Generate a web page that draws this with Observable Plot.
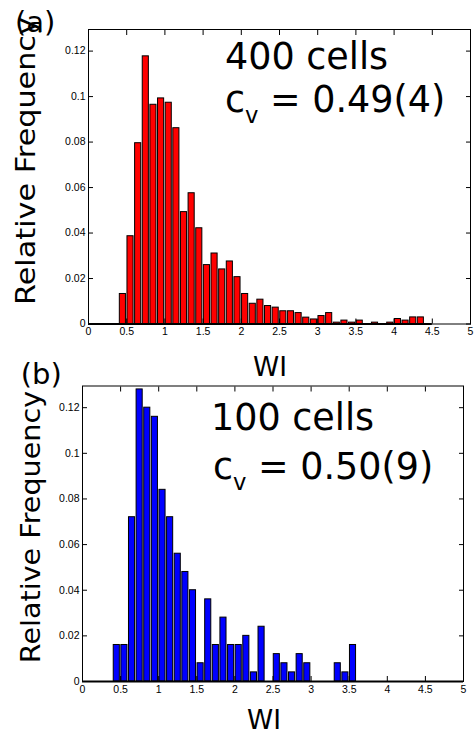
<!DOCTYPE html>
<html><head><meta charset="utf-8">
<script src="https://cdn.jsdelivr.net/npm/d3@7"></script>
<script src="https://cdn.jsdelivr.net/npm/@observablehq/plot@0.6"></script>
<style>
body{margin:0;background:#fff;}
#root{position:relative;width:474px;height:734px;overflow:hidden;font-family:"DejaVu Sans";color:#000;}
.t{position:absolute;line-height:1;white-space:nowrap;color:#000;}
.panel{position:absolute;left:0;}
.panel svg{overflow:visible;}
.sub{font-size:0.62em;position:relative;top:0.48em;}
</style></head><body>
<div id="root">
  <div class="panel" id="pa" style="top:0px"></div>
  <div class="panel" id="pb" style="top:356px"></div>
  <div class="t" style="left:25px;top:161px;font-size:27px;transform:translate(-50%,-50%) rotate(-90deg) scaleX(1.12)">Relative Frequency</div>
  <div class="t" style="left:30px;top:527px;font-size:27px;transform:translate(-50%,-50%) rotate(-90deg) scaleX(1.06)">Relative Frequency</div>
  <div class="t" style="left:15px;top:8px;font-size:29px">(a)</div>
  <div class="t" style="left:20.7px;top:359.7px;font-size:29px">(b)</div>
  <div class="t" style="left:270px;top:354px;font-size:26.5px;transform:translateX(-50%)">WI</div>
  <div class="t" style="left:264px;top:707px;font-size:26.5px;transform:translateX(-50%)">WI</div>
  <div class="t" style="left:225px;top:39.1px;font-size:36.5px">400 cells</div>
  <div class="t" style="left:225px;top:81.8px;font-size:36.5px">c<span class="sub">v</span> = 0.49(4)</div>
  <div class="t" style="left:211px;top:399.8px;font-size:36.5px">100 cells</div>
  <div class="t" style="left:213px;top:449.1px;font-size:36.5px">c<span class="sub">v</span> = 0.50(9)</div>
</div>
<script>
// Panel (a): 400 cells, bin centers of WI and relative frequency
const binCentersA = [0.05,0.15,0.25,0.35,0.45,0.55,0.65,0.75,0.85,0.95,1.05,1.15,1.25,1.35,1.45,1.55,1.65,1.75,1.85,1.95,2.05,2.15,2.25,2.35,2.45,2.55,2.65,2.75,2.85,2.95,3.05,3.15,3.25,3.35,3.45,3.55,3.65,3.75,3.85,3.95,4.05,4.15,4.25,4.35,4.45];
const freqA = [0,0,0,0,0.0132,0.0386,0.0795,0.1177,0.0964,0.0992,0.0973,0.0861,0.0492,0.0575,0.0421,0.0259,0.0310,0.0240,0.0275,0.0206,0.0132,0.0089,0.0107,0.0079,0.0072,0.0056,0.0056,0.0048,0.0028,0.0020,0.0035,0.0048,0.0006,0.0015,0.0006,0.0015,0,0.0006,0,0.0006,0.0022,0.0015,0.0029,0.0029,0];
// Panel (b): 100 cells
const binCentersB = [0.05,0.15,0.25,0.35,0.45,0.55,0.65,0.75,0.85,0.95,1.05,1.15,1.25,1.35,1.45,1.55,1.65,1.75,1.85,1.95,2.05,2.15,2.25,2.35,2.45,2.55,2.65,2.75,2.85,2.95,3.05,3.15,3.25,3.35,3.45,3.55,3.65,3.75,3.85,3.95,4.05,4.15,4.25,4.35,4.45,4.55,4.65,4.75,4.85,4.95];
const freqB = [0,0,0,0,0.016,0.016,0.072,0.128,0.120,0.116,0.084,0.072,0.056,0.048,0.040,0.008,0.036,0.016,0.028,0.016,0.016,0.020,0.004,0.024,0,0.012,0.008,0.004,0.012,0.008,0,0,0,0.008,0.004,0.016,0,0,0,0,0,0,0,0,0,0,0,0,0,0];
const xTicks = [0,0.5,1,1.5,2,2.5,3,3.5,4,4.5,5];
const xTickLabels = ["0","0.5","1","1.5","2","2.5","3","3.5","4","4.5","5"];
const yTicks = [0,0.02,0.04,0.06,0.08,0.1,0.12];
const yTickLabels = ["0","0.02","0.04","0.06","0.08","0.1","0.12"];
const binWidth = 0.1;
const barHalf = 0.04;

function panel(centers, freqs, fill, m) {
  const data = centers.map((x, i) => ({x, f: freqs[i]}));
  const lo = d3.min(centers) - binWidth / 2, hi = d3.max(centers) + binWidth / 2;
  return Plot.plot({
    width: 474, height: 345,
    marginTop: m.top, marginBottom: m.bottom, marginLeft: m.left, marginRight: m.right,
    x: {domain: [0, 5], label: null},
    y: {domain: [0, 0.1295], label: null},
    style: {fontFamily: "'Liberation Sans', Arial, sans-serif", fontSize: "10.5px", background: "transparent", color: "#000"},
    marks: [
      Plot.rect(data.filter(d => d.f > 0), {x1: d => d.x - barHalf, x2: d => d.x + barHalf, y1: 0, y2: "f", fill, stroke: "#000", strokeWidth: 1}),
      Plot.ruleY([0], {x1: lo, x2: hi, stroke: "#000", strokeWidth: 2}),
      Plot.frame({stroke: "#000"}),
      Plot.axisX(xTicks, {anchor: "bottom", label: null, tickSize: -5, tickPadding: 9, tickFormat: d => xTickLabels[xTicks.indexOf(d)]}),
      Plot.axisX(xTicks, {anchor: "top", label: null, tickSize: -5, tickFormat: () => ""}),
      Plot.axisY(yTicks, {anchor: "left", label: null, tickSize: -5, tickPadding: 8, tickFormat: d => yTickLabels[yTicks.indexOf(d)]}),
      Plot.axisY(yTicks, {anchor: "right", label: null, tickSize: -5, tickFormat: () => ""})
    ]
  });
}

document.getElementById("pa").appendChild(panel(binCentersA, freqA, "#ff0000", {top: 29, bottom: 21.5, left: 88, right: 4}));
document.getElementById("pb").appendChild(panel(binCentersB, freqB, "#0000ff", {top: 29.5, bottom: 20, left: 82, right: 11}));
</script>
</body></html>
